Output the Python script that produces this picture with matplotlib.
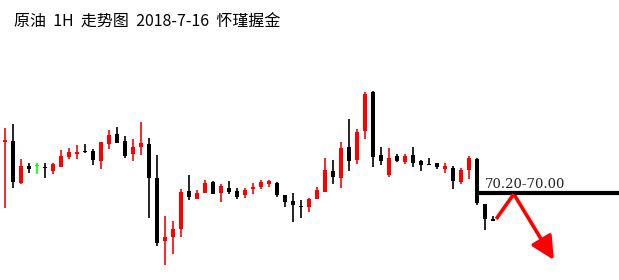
import numpy as np
import matplotlib.pyplot as plt
from matplotlib.patches import FancyArrowPatch

title = "原油  1H  走势图  2018-7-16  怀瑾握金"

# hourly candles
opens = [70.61, 70.62, 70.20, 70.37, 70.37, 70.36, 70.32, 70.36, 70.46, 70.49,
         70.52, 70.52, 70.42, 70.59, 70.69, 70.62, 70.49, 70.56, 70.59, 70.25,
         69.62, 69.66, 69.74, 70.12, 70.04, 70.10, 70.21, 70.10, 70.15, 70.12,
         70.08, 70.14, 70.16, 70.19, 70.20, 70.08, 70.02, 69.97, 69.96, 70.04,
         70.11, 70.32, 70.25, 70.56, 70.43, 70.72, 71.11, 70.48, 70.28, 70.47,
         70.41, 70.48, 70.42, 70.39, 70.40, 70.34, 70.35, 70.21, 70.33, 70.44,
         69.99, 69.84]
highs = [70.75, 70.79, 70.44, 70.40, 70.40, 70.40, 70.40, 70.53, 70.55, 70.58,
         70.59, 70.54, 70.61, 70.73, 70.76, 70.67, 70.64, 70.81, 70.65, 70.48,
         69.87, 69.82, 70.14, 70.28, 70.13, 70.23, 70.22, 70.19, 70.22, 70.15,
         70.15, 70.20, 70.23, 70.23, 70.21, 70.08, 70.10, 70.03, 70.05, 70.16,
         70.45, 70.43, 70.61, 70.84, 70.74, 71.11, 71.12, 70.56, 70.55, 70.49,
         70.49, 70.56, 70.43, 70.45, 70.40, 70.40, 70.37, 70.35, 70.47, 70.45,
         69.99, 69.87]
lows = [69.95, 70.15, 70.19, 70.30, 70.29, 70.25, 70.29, 70.36, 70.44, 70.44,
        70.50, 70.38, 70.34, 70.54, 70.60, 70.45, 70.42, 70.48, 69.85, 69.57,
        69.38, 69.49, 69.66, 70.03, 70.04, 70.10, 70.09, 70.01, 70.09, 70.04,
        70.05, 70.09, 70.14, 70.16, 70.06, 69.96, 69.81, 69.85, 69.91, 70.04,
        70.11, 70.19, 70.15, 70.32, 70.39, 70.64, 70.36, 70.38, 70.26, 70.41,
        70.39, 70.36, 70.32, 70.38, 70.34, 70.30, 70.14, 70.19, 70.24, 69.98,
        69.73, 69.82]
closes = [70.63, 70.21, 70.37, 70.34, 70.37, 70.35, 70.39, 70.47, 70.51, 70.51,
          70.51, 70.43, 70.61, 70.68, 70.60, 70.47, 70.56, 70.60, 70.25, 69.60,
          69.66, 69.74, 70.11, 70.06, 70.10, 70.20, 70.09, 70.17, 70.11, 70.06,
          70.13, 70.16, 70.21, 70.22, 70.08, 70.01, 69.98, 69.96, 70.04, 70.13,
          70.33, 70.26, 70.55, 70.42, 70.71, 71.09, 70.46, 70.42, 70.45, 70.42,
          70.47, 70.40, 70.38, 70.38, 70.36, 70.37, 70.22, 70.33, 70.45, 70.00,
          69.84, 69.82]

level_text = "70.20-70.00"
level = 70.10
level_start = 59

# projected path (index, price)
path_x = [61.4, 63.6, 68.6]
path_y = [69.84, 70.09, 69.43]


def main():
    fig = plt.figure(figsize=(6.19, 2.8), dpi=100)
    ax = fig.add_axes([0, 0, 1, 1])
    ax.set_axis_off()

    o = np.array(opens)
    h = np.array(highs)
    l = np.array(lows)
    c = np.array(closes)
    idx = np.arange(len(o))
    colors = np.where(c > o, "#ff0000", np.where(c < o, "#000000", "#00ff00"))

    ax.vlines(idx, l, h, colors=colors, linewidth=1.2)
    body = np.maximum(np.abs(c - o), 0.012)
    ax.bar(idx, body, bottom=np.minimum(o, c), width=0.62, color=colors,
           linewidth=0)

    ax.hlines(level, level_start, 80, colors="black", linewidth=3)
    ax.text(level_start + 1, level + 0.025, level_text, fontsize=9.5,
            family="DejaVu Serif", color="#222222", ha="left", va="bottom")

    ax.plot(path_x[:2], path_y[:2], color="#ff0000", linewidth=2.6,
            solid_capstyle="butt")
    arr = FancyArrowPatch((path_x[1], path_y[1]), (path_x[2], path_y[2]),
                          arrowstyle="-|>,head_length=1.0,head_width=0.5",
                          mutation_scale=14, color="#ff0000", linewidth=2.6,
                          shrinkA=0, shrinkB=0)
    ax.add_patch(arr)

    ax.set_xlim(-0.625, 76.75)
    ax.set_ylim(69.23, 72.03)

    fig.text(14 / 619, 1 - 22 / 280, title, fontsize=11.5,
             family=["Noto Sans CJK SC", "DejaVu Sans"], ha="left", va="center")

    fig.savefig("out.png", dpi=100)


if __name__ == '__main__':
    main()
